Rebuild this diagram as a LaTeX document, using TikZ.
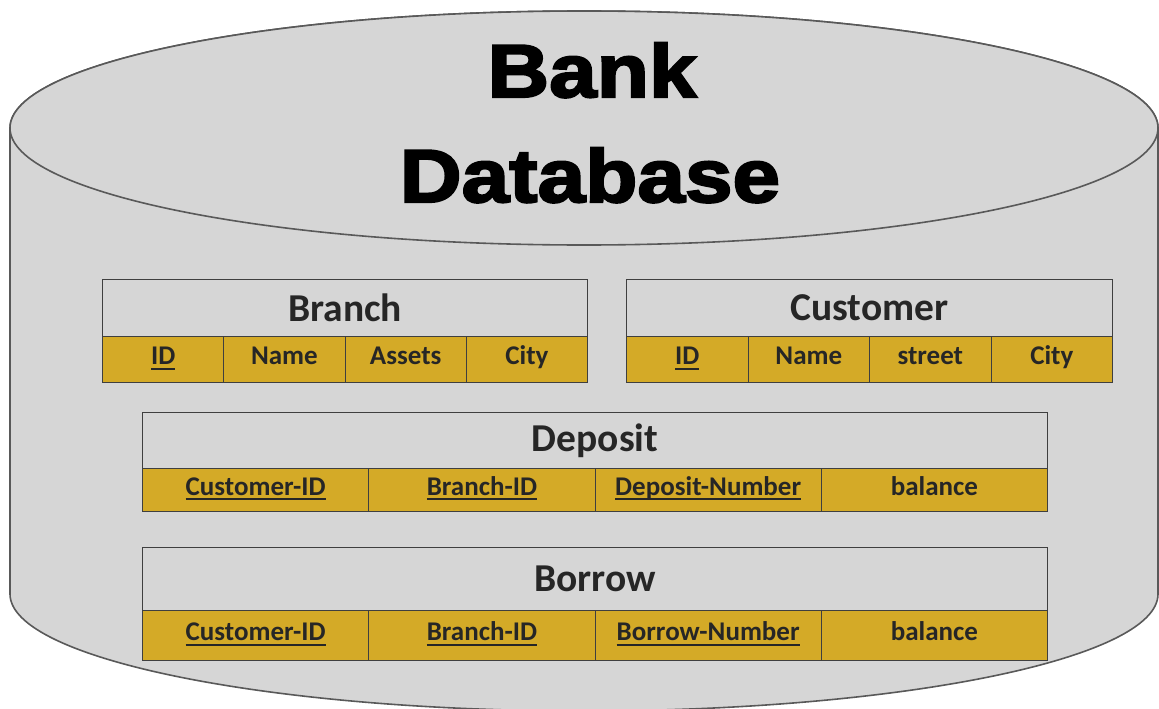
\documentclass[tikz,border=0pt]{standalone}
\usepackage{fontspec}
\setmainfont{Carlito}
\newfontfamily\titlefont[FakeBold=3,FakeStretch=1.14]{Liberation Sans Bold}
\definecolor{cylfill}{HTML}{D6D6D6}
\definecolor{cylline}{HTML}{595959}
\definecolor{gold}{HTML}{D4AA27}
\definecolor{tline}{HTML}{3F3F3F}
\definecolor{txt}{HTML}{262626}
\newcommand{\ulkey}[1]{\setbox0\hbox{#1}\rlap{\rule[-5pt]{\wd0}{1.8pt}}\box0}
\tikzset{
  cyl/.style={fill=cylfill,draw=cylline,line width=1.6pt},
  tcell/.style={draw=tline,line width=1.1pt,inner sep=0pt,anchor=north west,text=txt},
  thead/.style={tcell,fill=cylfill,font=\fontsize{39.5}{42}\selectfont\bfseries},
  tfield/.style={tcell,fill=gold,font=\fontsize{27}{30}\selectfont\bfseries,text height=18pt,text depth=8pt},
  bigtitle/.style={anchor=base,text=black,font=\fontsize{75}{80}\selectfont\titlefont}
}
\newcommand{\dbtable}[8]{%
  % #1 name, #2 x, #3 y, #4 width, #5 head h, #6 field h, #7 title, #8 fields
  \node[thead,minimum width=#4pt,minimum height=#5pt] (#1) at (#2,#3) {#7};
  \pgfmathsetmacro{\cw}{#4/4}
  \foreach \lab [count=\i] in {#8} {
    \pgfmathsetmacro{\cx}{#2+(\i-1)*\cw}
    \node[tfield,minimum width=\cw pt,minimum height=#6pt] (#1-f\i) at (\cx,#3+#5) {\lab};
  }%
}
\begin{document}
\begin{tikzpicture}[x=1pt,y=-1pt]
\useasboundingbox (0,0) rectangle (1159,709);
% cylinder
\path[cyl] (10,128) -- (10,594) arc[start angle=180,end angle=0,x radius=574,y radius=117]
  -- (1158,128) arc[start angle=0,end angle=-180,x radius=574,y radius=117] -- cycle;
\draw[cyl] (584,128) ellipse [x radius=574,y radius=117];
\node[bigtitle] (bank) at (592,97) {Bank};
\node[bigtitle] (database) at (590,202) {Database};
% tables
\dbtable{branch}{102}{279}{485}{57}{46}{Branch}{\ulkey{ID},Name,Assets,City}
\dbtable{customer}{626}{279}{486}{57}{46}{Customer}{\ulkey{ID},Name,street,City}
\dbtable{deposit}{142}{412}{905}{56}{43}{Deposit}{\ulkey{Customer-ID},\ulkey{Branch-ID},\ulkey{Deposit-Number},balance}
\dbtable{borrow}{142}{547}{905}{63}{50}{Borrow}{\ulkey{Customer-ID},\ulkey{Branch-ID},\ulkey{Borrow-Number},balance}
\end{tikzpicture}
\end{document}
